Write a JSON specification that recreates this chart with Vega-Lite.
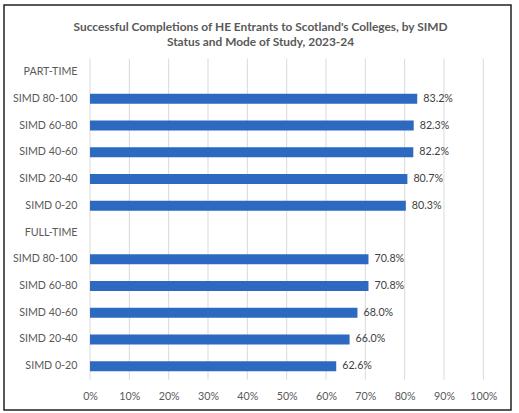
{
  "$schema": "https://vega.github.io/schema/vega-lite/v6.json",
  "description": "Successful completions of HE entrants to Scotland's colleges by SIMD status and mode of study",
  "width": 507,
  "height": 405,
  "autosize": "none",
  "padding": {"left": 4, "top": 5, "right": 8, "bottom": 3},
  "background": "white",
  "title": {
    "text": ["Successful Completions of HE Entrants to Scotland's Colleges, by SIMD", "Status and Mode of Study, 2023-24"],
    "anchor": "middle",
    "frame": "group",
    "offset": -44,
    "dx": 3,
    "font": "Lato",
    "fontSize": 11.9,
    "fontWeight": "bold",
    "color": "#595959",
    "lineHeight": 15.6
  },
  "data": {
    "values": [
      {"row": "PT|SIMD 80-100", "pct": 0.832},
      {"row": "PT|SIMD 60-80", "pct": 0.823},
      {"row": "PT|SIMD 40-60", "pct": 0.822},
      {"row": "PT|SIMD 20-40", "pct": 0.807},
      {"row": "PT|SIMD 0-20", "pct": 0.803},
      {"row": "FT|SIMD 80-100", "pct": 0.708},
      {"row": "FT|SIMD 60-80", "pct": 0.708},
      {"row": "FT|SIMD 40-60", "pct": 0.680},
      {"row": "FT|SIMD 20-40", "pct": 0.660},
      {"row": "FT|SIMD 0-20", "pct": 0.626}
    ]
  },
  "encoding": {
    "x": {
      "field": "pct",
      "type": "quantitative",
      "scale": {"domain": [-0.2187, 1.0704], "nice": false, "zero": false},
      "axis": {
        "title": null,
        "values": [0, 0.1, 0.2, 0.3, 0.4, 0.5, 0.6, 0.7, 0.8, 0.9, 1],
        "format": ".0%",
        "grid": false,
        "ticks": false,
        "domain": false,
        "offset": -19,
        "labelPadding": 0,
        "labelFont": "Lato",
        "labelFontSize": 10.7,
        "labelColor": "#595959"
      }
    },
    "y": {
      "field": "row",
      "type": "nominal",
      "scale": {
        "type": "band",
        "domain": ["PT|PART-TIME", "PT|SIMD 80-100", "PT|SIMD 60-80", "PT|SIMD 40-60", "PT|SIMD 20-40", "PT|SIMD 0-20",
                   "FT|FULL-TIME", "FT|SIMD 80-100", "FT|SIMD 60-80", "FT|SIMD 40-60", "FT|SIMD 20-40", "FT|SIMD 0-20"],
        "range": [53.7, 374.6],
        "paddingInner": 0,
        "paddingOuter": 0
      },
      "axis": {
        "title": null,
        "labelExpr": "split(datum.value, '|')[1]",
        "grid": false,
        "ticks": false,
        "domain": false,
        "offset": -73,
        "labelPadding": 0,
        "labelFont": "Lato",
        "labelFontSize": 10.7,
        "labelColor": "#595959"
      }
    }
  },
  "layer": [
    {
      "data": {"values": [{"v": 0}, {"v": 0.1}, {"v": 0.2}, {"v": 0.3}, {"v": 0.4}, {"v": 0.5}, {"v": 0.6}, {"v": 0.7}, {"v": 0.8}, {"v": 0.9}, {"v": 1}]},
      "mark": {"type": "rule", "color": "#d9d9d9", "strokeWidth": 1},
      "encoding": {
        "x": {"field": "v", "type": "quantitative"},
        "y": {"datum": "PT|PART-TIME", "type": "nominal", "bandPosition": 0},
        "y2": {"datum": "FT|SIMD 0-20", "bandPosition": 1}
      }
    },
    {
      "mark": {"type": "bar", "color": "#2d69c1", "height": {"band": 0.37}}
    },
    {
      "mark": {"type": "text", "align": "left", "baseline": "middle", "dx": 6, "font": "Lato", "fontSize": 10.7, "color": "#404040"},
      "encoding": {"text": {"field": "pct", "type": "quantitative", "format": ".1%"}}
    }
  ],
  "config": {
    "view": {"stroke": "#222222", "strokeWidth": 1.5}
  }
}
